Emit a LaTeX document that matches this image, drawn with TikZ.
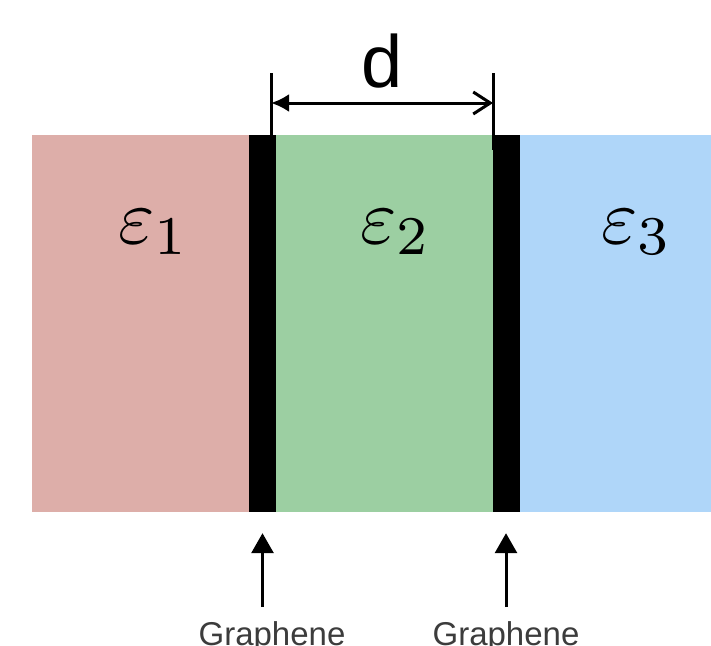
\documentclass[tikz,border=0pt]{standalone}
\usepackage{graphicx}
\usepackage{fontspec}
\setsansfont{Liberation Sans}
\usetikzlibrary{arrows.meta}

\definecolor{dielA}{RGB}{221,174,169}
\definecolor{dielB}{RGB}{156,207,162}
\definecolor{dielC}{RGB}{175,214,249}
\definecolor{labelgray}{RGB}{60,60,60}

\newcommand{\bigsym}[1]{\scalebox{7.8}{$#1$}}

\tikzset{
  layer/.style={draw=none, inner sep=0pt, minimum height=377pt},
  sheet/.style={fill=black, draw=none, inner sep=0pt, minimum height=377pt, minimum width=27pt},
  permit/.style={inner sep=0pt, anchor=base},
  caption/.style={inner sep=0pt, anchor=base, text=labelgray,
    font=\sffamily\fontsize{33}{39}\selectfont},
  dimline/.style={line width=3pt},
  pointer/.style={line width=3pt, -{Triangle[length=20pt,width=22pt]}}
}

\begin{document}
\begin{tikzpicture}[x=1pt, y=-1pt]
\useasboundingbox (0,0) rectangle (711,645);
\fill[white] (0,0) rectangle (711,645);

% dielectric slabs and graphene sheets
\node[layer, fill=dielA, minimum width=217pt] (m1) at (140.5,323.5) {};
\node[layer, fill=dielB, minimum width=217pt] (m2) at (384.5,323.5) {};
\node[layer, fill=dielC, minimum width=192pt] (m3) at (615,323.5) {};
\node[sheet] (g1) at (262.5,323.5) {};
\node[sheet] (g2) at (506,323.5) {};

% permittivities
\node[permit] (e1) at (154,243) {\bigsym{\varepsilon_1}};
\node[permit] (e2) at (396,243) {\bigsym{\varepsilon_2}};
\node[permit] (e3) at (637,243) {\bigsym{\varepsilon_3}};

% spacing d between the sheets
\coordinate (t1top) at (271,73);
\coordinate (t1bot) at (271,135);
\coordinate (t2top) at (493,73);
\coordinate (t2bot) at (493,150);
\coordinate (d1) at (271,103);
\coordinate (d2) at (493,103);
\draw[dimline] (t1top) -- (t1bot);
\draw[dimline] (t2top) -- (t2bot);
\draw[dimline, {Latex[length=18pt,width=18pt]}-{Straight Barb[length=17pt,width=22pt]}] (d1) -- (d2);
\node[inner sep=0pt, anchor=base, font=\sffamily\fontsize{74}{88}\selectfont] (dl) at (382,87) {d};

% graphene labels with pointers
\node[caption] (c1) at (272,645) {Graphene};
\node[caption] (c2) at (506,645) {Graphene};
\coordinate (p1) at (262.5,607);
\coordinate (p2) at (506,607);
\draw[pointer] (p1) -- ([yshift=-21pt]g1.south);
\draw[pointer] (p2) -- ([yshift=-21pt]g2.south);
\end{tikzpicture}
\end{document}
